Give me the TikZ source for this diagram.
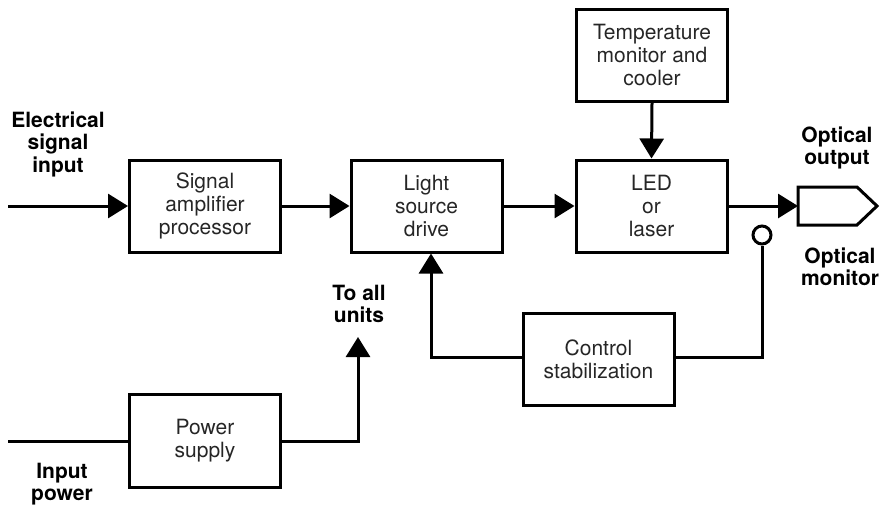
\documentclass[tikz,border=0pt]{standalone}
\usepackage{fontspec}
\setmainfont{TeX Gyre Heros}
\usetikzlibrary{arrows.meta}
\begin{document}
\begin{tikzpicture}[x=1pt,y=-1pt,
  blk/.style={draw, line width=3pt, minimum width=151pt, minimum height=92pt, align=center, inner sep=0pt, font=\fontsize{21}{23}\selectfont, text=black!85},
  lbl/.style={align=center, font=\fontsize{21}{22.5}\selectfont\bfseries, inner sep=0pt},
  wire/.style={line width=3pt},
  arr/.style={line width=3pt, -{Triangle[length=20pt,width=24pt]}}
]
\useasboundingbox (0,0) rectangle (882,506);
\node[blk] (amp) at (205,206) {Signal\\amplifier\\processor};
\node[blk] (drive) at (426.5,206) {Light\\source\\drive};
\node[blk] (led) at (651.5,206) {LED\\or\\laser};
\node[blk] (temp) at (652,55.5) {Temperature\\monitor and\\cooler};
\node[blk] (ctrl) at (598.5,359) {Control\\stabilization};
\node[blk, minimum height=93pt] (power) at (205,441) {Power\\supply};
\node[draw, circle, line width=3pt, minimum size=18pt, inner sep=0pt] (mon) at (762,235) {};

\coordinate (ein) at (8,206);
\coordinate (pin) at (8,441);
\coordinate (pcorner) at (358,441);
\coordinate (ptip) at (358,337);
\coordinate (out) at (798,206);
\coordinate (mcorner) at (762,357);
\coordinate (dcorner) at (431,357);

\draw[line width=3pt, line join=miter] (798,187) -- (857,187) -- (877,206) -- (857,225) -- (798,225) -- cycle;

\draw[arr] (ein) -- (amp.west);
\draw[arr] (amp.east) -- (drive.west);
\draw[arr] (drive.east) -- (led.west);
\draw[arr] (temp.south) -- (led.north);
\draw[arr] (led.east) -- (out);
\draw[wire] (mon.south) -- (mcorner) -- (ctrl.east |- mcorner);
\draw[arr] (ctrl.west |- dcorner) -- (dcorner) -- (dcorner |- drive.south);
\draw[wire] (pin) -- (power.west);
\draw[arr] (power.east) -- (pcorner) -- (ptip);

\node[lbl] at (58,144) {Electrical\\signal\\input};
\node[lbl] at (62,484) {Input\\power};
\node[lbl] at (359,304) {To all\\units};
\node[lbl] at (837,148) {Optical\\output};
\node[lbl] at (840,267) {Optical\\monitor};
\end{tikzpicture}
\end{document}
